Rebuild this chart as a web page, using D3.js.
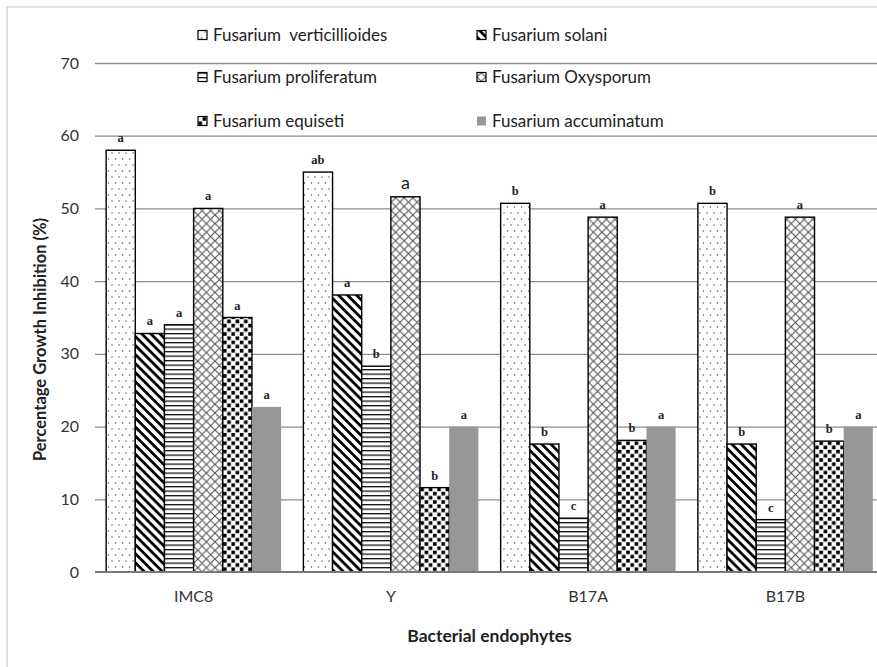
<!DOCTYPE html>
<html>
<head>
<meta charset="utf-8">
<script src="https://cdn.jsdelivr.net/npm/d3@7/dist/d3.min.js"></script>
<style>
  body { margin: 0; background: #fff; }
  svg { display: block; }
</style>
</head>
<body>
<svg></svg>
<script>
// data
const categories = ['IMC8', 'Y', 'B17A', 'B17B'];
const seriesNames = [
  'Fusarium  verticillioides',
  'Fusarium solani',
  'Fusarium proliferatum',
  'Fusarium Oxysporum',
  'Fusarium equiseti',
  'Fusarium accuminatum'
];
const verticillioides = [58.0, 55.0, 50.7, 50.7];
const solani          = [32.8, 38.1, 17.6, 17.6];
const proliferatum    = [34.0, 28.3, 7.4, 7.2];
const oxysporum       = [50.0, 51.6, 48.8, 48.8];
const equiseti        = [35.0, 11.6, 18.1, 18.0];
const accuminatum     = [22.7, 20.0, 20.0, 20.0];

const lettersVert  = ['a', 'ab', 'b', 'b'];
const lettersSol   = ['a', 'a', 'b', 'b'];
const lettersProl  = ['a', 'b', 'c', 'c'];
const lettersOxy   = ['a', 'a', 'a', 'a'];
const lettersEqu   = ['a', 'b', 'b', 'b'];
const lettersAcc   = ['a', 'a', 'a', 'a'];

const yTicks = [0, 10, 20, 30, 40, 50, 60, 70];

const seriesValues = [verticillioides, solani, proliferatum, oxysporum, equiseti, accuminatum];
const seriesLetters = [lettersVert, lettersSol, lettersProl, lettersOxy, lettersEqu, lettersAcc];

const WIDTH = 877;
const HEIGHT = 667;
const PLOT = {left: 95, right: 884, top: 63, bottom: 572};

const svg = d3.select('svg')
  .attr('width', WIDTH)
  .attr('height', HEIGHT);

// patterns
const defs = svg.append('defs');

const pDots = defs.append('pattern').attr('id', 'p0')
  .attr('patternUnits', 'userSpaceOnUse').attr('width', 14).attr('height', 12);
pDots.append('rect').attr('width', 14).attr('height', 12).attr('fill', '#fff');
[[3.5, 3], [10.5, 3], [0, 9], [7, 9], [14, 9]].forEach(([cx, cy]) => {
  pDots.append('circle').attr('cx', cx).attr('cy', cy).attr('r', 0.75).attr('fill', '#555');
});

const pDiag = defs.append('pattern').attr('id', 'p1')
  .attr('patternUnits', 'userSpaceOnUse').attr('width', 6.4).attr('height', 6.4)
  .attr('patternTransform', 'rotate(45)');
pDiag.append('rect').attr('width', 6.4).attr('height', 6.4).attr('fill', '#fff');
pDiag.append('rect').attr('width', 6.4).attr('height', 2.8).attr('fill', '#000');

const pHor = defs.append('pattern').attr('id', 'p2')
  .attr('patternUnits', 'userSpaceOnUse').attr('width', 4).attr('height', 4.5);
pHor.append('rect').attr('width', 4).attr('height', 4.5).attr('fill', '#fff');
pHor.append('rect').attr('width', 4).attr('height', 1.3).attr('fill', '#111');

const pCross = defs.append('pattern').attr('id', 'p3')
  .attr('patternUnits', 'userSpaceOnUse').attr('width', 8.6).attr('height', 8.6);
pCross.append('rect').attr('width', 8.6).attr('height', 8.6).attr('fill', '#fff');
pCross.append('path').attr('d', 'M0,0L8.6,8.6M8.6,0L0,8.6')
  .attr('stroke', '#555').attr('stroke-width', 1.1);

const pCheck = defs.append('pattern').attr('id', 'p4')
  .attr('patternUnits', 'userSpaceOnUse').attr('width', 8.4).attr('height', 8.4);
pCheck.append('rect').attr('width', 8.4).attr('height', 8.4).attr('fill', '#fff');
pCheck.append('rect').attr('x', 0.4).attr('y', 0.4).attr('width', 3.6).attr('height', 3.6).attr('fill', '#000');
pCheck.append('rect').attr('x', 4.6).attr('y', 4.6).attr('width', 3.6).attr('height', 3.6).attr('fill', '#000');

const fills = ['url(#p0)', 'url(#p1)', 'url(#p2)', 'url(#p3)', 'url(#p4)', '#979797'];
const strokes = ['#000', '#000', '#000', '#000', '#000', 'none'];

// outer frame
svg.append('rect')
  .attr('x', 7).attr('y', 7)
  .attr('width', 900).attr('height', 700)
  .attr('fill', 'none')
  .attr('stroke', '#c4c4c4');

// scales
const x0 = d3.scaleBand().domain(categories).range([PLOT.left, PLOT.right])
  .paddingInner(0.113).paddingOuter(0.0565);
const x1 = d3.scaleBand().domain(d3.range(seriesNames.length)).range([0, x0.bandwidth()]);
const y = d3.scaleLinear().domain([0, 70]).range([PLOT.bottom, PLOT.top]);

// gridlines + y labels
const yAxis = svg.append('g')
  .attr('transform', `translate(${PLOT.left},0)`)
  .call(d3.axisLeft(y).tickValues(yTicks).tickSize(-(WIDTH - PLOT.left + 20)).tickPadding(16));
yAxis.select('.domain').remove();
yAxis.selectAll('.tick line').attr('stroke', '#8c8c8c').attr('stroke-width', 1.3);
yAxis.selectAll('.tick text')
  .attr('font-family', 'Lato, sans-serif').attr('font-size', 16).attr('fill', '#333');
yAxis.selectAll('.tick').filter(d => d === 0).select('line').remove();

// bars
const rows = [];
seriesValues.forEach((vals, s) => {
  vals.forEach((v, c) => rows.push({s, c, v, letter: seriesLetters[s][c]}));
});

svg.append('g').selectAll('rect')
  .data(rows)
  .enter()
  .append('rect')
  .attr('x', d => x0(categories[d.c]) + x1(d.s))
  .attr('y', d => y(d.v))
  .attr('width', x1.bandwidth())
  .attr('height', d => y(0) - y(d.v))
  .attr('fill', d => fills[d.s])
  .attr('stroke', d => strokes[d.s])
  .attr('stroke-width', 1.4);

// x axis line
svg.append('g')
  .attr('transform', `translate(0,${PLOT.bottom})`)
  .call(d3.axisBottom(x0).tickSize(0).tickPadding(19))
  .call(g => g.select('.domain').attr('stroke', '#7a7a7a').attr('stroke-width', 2)
    .attr('d', `M${PLOT.left},0H${WIDTH + 20}`))
  .call(g => g.selectAll('text')
    .attr('font-family', 'Lato, sans-serif').attr('font-size', 16).attr('fill', '#333'));

// significance letters; one of them is set in the plain sans font
const sansLetter = {s: 3, c: 1};
svg.append('g').selectAll('text')
  .data(rows)
  .enter()
  .append('text')
  .attr('x', d => x0(categories[d.c]) + x1(d.s) + x1.bandwidth() / 2)
  .attr('y', d => y(d.v) - 8)
  .attr('text-anchor', 'middle')
  .each(function(d) {
    const t = d3.select(this);
    if (d.s === sansLetter.s && d.c === sansLetter.c) {
      t.attr('font-family', 'Lato, sans-serif').attr('font-size', 18).attr('fill', '#222');
    } else {
      t.attr('font-family', '"Liberation Serif", serif').attr('font-weight', 'bold')
        .attr('font-size', 12.5).attr('fill', '#222');
    }
  })
  .text(d => d.letter);

// legend
const legendCols = [198, 477];
const legendRows = [35, 77, 121];
const legend = svg.append('g').selectAll('g')
  .data(seriesNames)
  .enter()
  .append('g')
  .attr('transform', (d, i) => `translate(${legendCols[i % 2]},${legendRows[Math.floor(i / 2)]})`);
legend.append('rect')
  .attr('x', 0).attr('y', -4.5)
  .attr('width', 9).attr('height', 9)
  .attr('fill', (d, i) => fills[i])
  .attr('stroke', (d, i) => strokes[i])
  .attr('stroke-width', 1.2);
legend.append('text')
  .attr('x', 15).attr('y', 0)
  .attr('dy', '0.35em')
  .attr('font-family', 'Lato, sans-serif')
  .attr('font-size', 17)
  .attr('fill', '#222')
  .style('white-space', 'pre')
  .text(d => d);

// axis titles
svg.append('text')
  .attr('x', (PLOT.left + PLOT.right) / 2)
  .attr('y', 642)
  .attr('text-anchor', 'middle')
  .attr('font-family', 'Lato, sans-serif')
  .attr('font-weight', 'bold')
  .attr('font-size', 17.5)
  .attr('fill', '#222')
  .text('Bacterial endophytes');

svg.append('text')
  .attr('transform', `translate(46,${(PLOT.top + PLOT.bottom) / 2 + 22}) rotate(-90)`)
  .attr('text-anchor', 'middle')
  .attr('font-family', 'Lato, sans-serif')
  .attr('font-weight', 'bold')
  .attr('font-size', 16.5)
  .attr('fill', '#222')
  .text('Percentage Growth Inhibition (%)');
</script>
</body>
</html>
